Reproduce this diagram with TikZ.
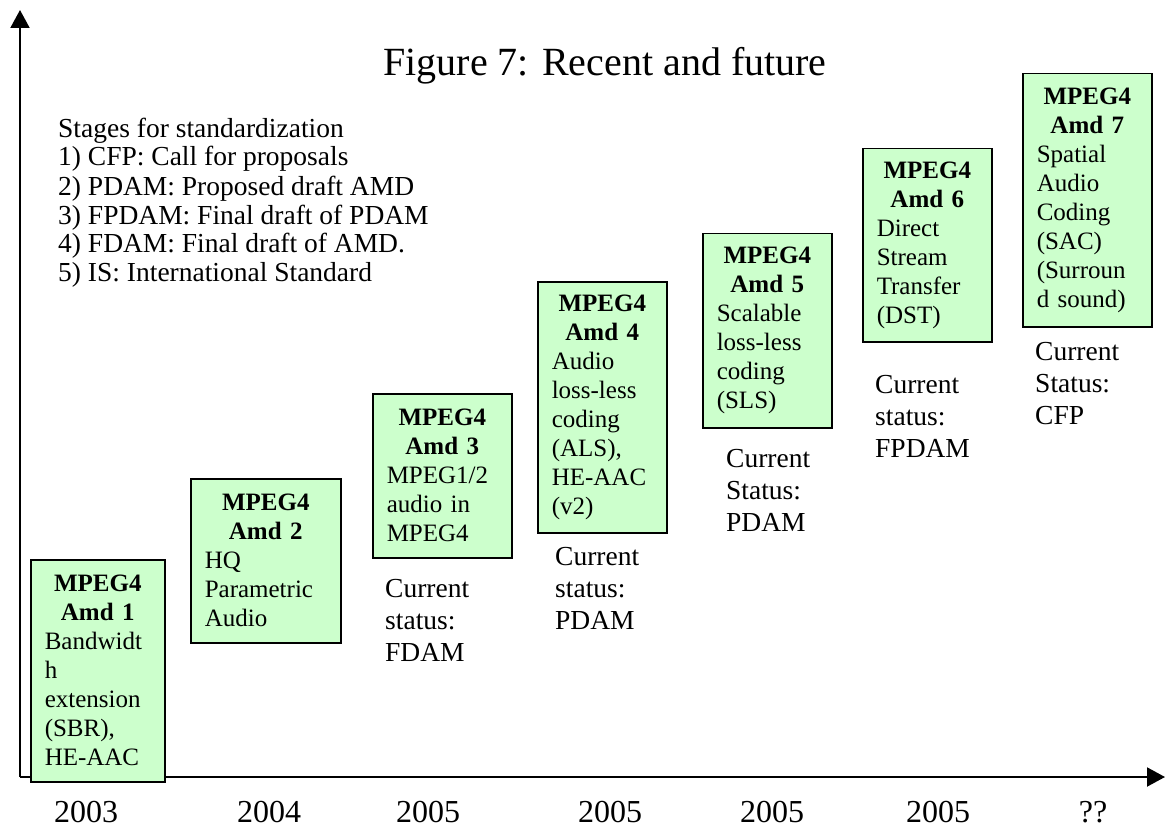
\documentclass[tikz,border=0pt]{standalone}
\usepackage{fontspec}
\setmainfont{Liberation Serif}
\usetikzlibrary{arrows.meta}
\definecolor{boxgreen}{HTML}{CCFFCC}
\newcommand\amdhead[1]{\hfill\textbf{MPEG4}\hfill\null\\\hfill\textbf{#1}\hfill\null\\}
\begin{document}
\begin{tikzpicture}[x=1pt,y=-1pt,
  amdbox/.style={draw=black, line width=1.5pt, fill=boxgreen, anchor=north west,
    inner xsep=14pt, inner ysep=0pt, align=left, font=\fontsize{25}{29}\selectfont},
  lbl/.style={anchor=base west, align=left, inner sep=0pt, font=\fontsize{27.5}{32}\selectfont},
  stagestxt/.style={anchor=base west, align=left, inner sep=0pt, font=\fontsize{27.5}{29}\selectfont},
  yearlbl/.style={anchor=base, inner sep=0pt, font=\fontsize{32}{36}\selectfont},
  axisline/.style={line width=2pt, -{Triangle[length=18pt,width=19pt]}}]
\useasboundingbox (0,0) rectangle (1165,829);

% axes
\coordinate (O) at (20,777);
\coordinate (ytop) at (20,10);
\coordinate (xend) at (1165,777);
\draw[axisline] (O) -- (ytop);
\draw[axisline] (O) -- (xend);

% title
\node[anchor=base, inner sep=0pt, font=\fontsize{40}{48}\selectfont] (title) at (605,76) {Figure 7: Recent and future};

% stages (anchored at the baseline of the last line)
\node[stagestxt] (stages) at (58,282) {Stages for standardization\\1) CFP: Call for proposals\\2) PDAM: Proposed draft AMD\\3) FPDAM: Final draft of PDAM\\4) FDAM: Final draft of AMD.\\5) IS: International Standard};

% boxes
\node[amdbox, minimum width=134pt, minimum height=222pt, text width=106pt] (b1) at (30,559)
  {\amdhead{Amd 1}Bandwidt\\h\\extension\\(SBR),\\HE-AAC};
\node[amdbox, minimum width=150pt, minimum height=164pt, text width=122pt] (b2) at (190,478)
  {\amdhead{Amd 2}HQ\\Parametric\\Audio};
\node[amdbox, minimum width=139pt, minimum height=164pt, text width=111pt] (b3) at (372,393)
  {\amdhead{Amd 3}MPEG1/2\\audio in\\MPEG4};
\node[amdbox, minimum width=129pt, minimum height=251pt, text width=101pt] (b4) at (537,281)
  {\amdhead{Amd 4}Audio\\loss-less\\coding\\(ALS),\\HE-AAC\\(v2)};
\node[amdbox, minimum width=129pt, minimum height=194pt, text width=101pt] (b5) at (702,233)
  {\amdhead{Amd 5}Scalable\\loss-less\\coding\\(SLS)};
\node[amdbox, minimum width=129pt, minimum height=193pt, text width=101pt] (b6) at (862,148)
  {\amdhead{Amd 6}Direct\\Stream\\Transfer\\(DST)};
\node[amdbox, minimum width=129pt, minimum height=253pt, text width=101pt] (b7) at (1022,73)
  {\amdhead{Amd 7}Spatial\\Audio\\Coding\\(SAC)\\(Surroun\\d sound)};

% status labels (anchored at the baseline of the last line)
\node[lbl] (s3) at (385,661) {Current\\status:\\FDAM};
\node[lbl] (s4) at (555,629) {Current\\status:\\PDAM};
\node[lbl] (s5) at (726,531) {Current\\Status:\\PDAM};
\node[lbl] (s6) at (875,457) {Current\\status:\\FPDAM};
\node[lbl] (s7) at (1035,424) {Current\\Status:\\CFP};

% years
\node[yearlbl] (y1) at (86,822) {2003};
\node[yearlbl] (y2) at (269,822) {2004};
\node[yearlbl] (y3) at (428,822) {2005};
\node[yearlbl] (y4) at (610,822) {2005};
\node[yearlbl] (y5) at (772,822) {2005};
\node[yearlbl] (y6) at (938,822) {2005};
\node[yearlbl] (y7) at (1093,822) {??};
\end{tikzpicture}
\end{document}
